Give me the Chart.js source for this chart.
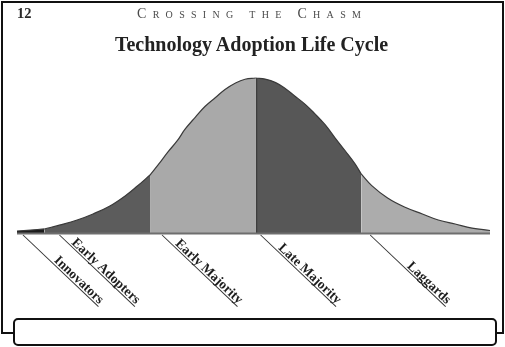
<!DOCTYPE html>
<html>
<head>
<meta charset="utf-8">
<script src="https://cdn.jsdelivr.net/npm/chart.js@4.4.1/dist/chart.umd.min.js"></script>
<style>
  html, body { margin:0; padding:0; background:#fff; }
  body { width:505px; height:347px; position:relative; overflow:hidden; font-family:"Liberation Serif", "DejaVu Serif", serif; }
  #c { position:absolute; left:0; top:0; width:505px; height:347px; }
  .frame { position:absolute; left:1px; top:1px; width:503px; height:333px; border:2px solid #111; box-sizing:border-box; }
  .box { position:absolute; left:13px; top:318px; width:484px; height:28px; border:2px solid #111; border-radius:5px; box-sizing:border-box; background:#fff; }
  .pnum { position:absolute; left:17px; top:6px; font-size:14.5px; line-height:14px; font-weight:bold; color:#2a2a2a; }
  .running { position:absolute; left:137px; top:7px; font-size:14px; line-height:14px; font-variant:small-caps; letter-spacing:6.3px; color:#4a4a4a; white-space:nowrap; }
  .title { position:absolute; left:0; width:503px; top:34px; text-align:center; font-size:20px; line-height:20px; font-weight:bold; color:#222; white-space:nowrap; }
</style>
</head>
<body>
<canvas id="c" width="505" height="347"></canvas>
<div class="frame"></div>
<div class="box"></div>
<div class="pnum">12</div>
<div class="running">Crossing the Chasm</div>
<div class="title">Technology Adoption Life Cycle</div>
<script>
// Categories (adopter groups) in order along the curve
const segmentNames = ['Innovators', 'Early Adopters', 'Early Majority', 'Late Majority', 'Laggards'];

// x: standard deviations from the mean; y: relative share of adopters (peak = 100)
const innovatorsX    = [-2.26, -2.13, -2.0];
const innovatorsY    = [1.3, 1.9, 2.6];

const earlyAdoptersX = [-2.0, -1.85, -1.69, -1.54, -1.38, -1.23, -1.12, -1.0];
const earlyAdoptersY = [2.6, 5.2, 8.4, 12.3, 17.4, 24.2, 30.3, 37.4];

const earlyMajorityX = [-1.0, -0.92, -0.83, -0.74, -0.67, -0.57, -0.48, -0.38, -0.29, -0.19, -0.10, 0];
const earlyMajorityY = [37.4, 44.2, 52.3, 59.7, 66.8, 74.8, 81.6, 87.4, 92.6, 96.8, 99.2, 100];

const lateMajorityX  = [0, 0.09, 0.19, 0.28, 0.37, 0.47, 0.56, 0.66, 0.75, 0.85, 0.94, 1.0];
const lateMajorityY  = [100, 99.3, 97.0, 93.2, 88.4, 83.0, 77.0, 69.7, 61.6, 52.9, 44.8, 38.1];

const laggardsX      = [1.0, 1.10, 1.25, 1.41, 1.58, 1.73, 1.89, 2.05, 2.22];
const laggardsY      = [38.1, 30.6, 22.6, 16.8, 12.3, 8.4, 5.8, 3.2, 1.6];

const segmentXs = [innovatorsX, earlyAdoptersX, earlyMajorityX, lateMajorityX, laggardsX];
const segmentYs = [innovatorsY, earlyAdoptersY, earlyMajorityY, lateMajorityY, laggardsY];

// styling (kept separate from data)
const fillColors = ['#1c1c1c', '#5c5c5c', '#a9a9a9', '#575757', '#acacac'];
const labelLeadOffsetPx = [6, 15, 12, 5, 9];

const toPoints = (xs, ys) => xs.map((x, i) => ({ x: x, y: ys[i] }));

const datasets = segmentNames.map((name, i) => ({
  label: name,
  data: toPoints(segmentXs[i], segmentYs[i]),
  fill: 'origin',
  backgroundColor: fillColors[i],
  borderColor: '#3a3a3a',
  borderWidth: 1.2,
  pointRadius: 0,
  tension: 0.4,
  clip: false
}));

const labelPlugin = {
  id: 'adopterLabels',
  afterDatasetsDraw(chart) {
    const ctx = chart.ctx;
    const xs = chart.scales.x, ys = chart.scales.y;
    const base = ys.getPixelForValue(0);
    const firstX = xs.getPixelForValue(innovatorsX[0]);
    const lastX = xs.getPixelForValue(laggardsX[laggardsX.length - 1]);
    ctx.save();
    // divider at the mean
    const mx = Math.round(xs.getPixelForValue(lateMajorityX[0])) + 0.5;
    ctx.strokeStyle = '#3e3e3e';
    ctx.lineWidth = 1.5;
    ctx.beginPath();
    ctx.moveTo(mx, ys.getPixelForValue(lateMajorityY[0]));
    ctx.lineTo(mx, base);
    ctx.stroke();
    // baseline
    ctx.strokeStyle = '#6e6e6e';
    ctx.lineWidth = 2;
    ctx.beginPath();
    ctx.moveTo(firstX, base + 0.5);
    ctx.lineTo(lastX, base + 0.5);
    ctx.stroke();

    const theta = 43.5 * Math.PI / 180;
    const L = 104;
    segmentNames.forEach((name, i) => {
      const x0 = xs.getPixelForValue(segmentXs[i][0]) + labelLeadOffsetPx[i];
      const y0 = base + 2;
      ctx.save();
      ctx.translate(x0, y0);
      ctx.rotate(theta);
      ctx.strokeStyle = '#333';
      ctx.lineWidth = 1;
      ctx.beginPath();
      ctx.moveTo(0, 0);
      ctx.lineTo(L, 0);
      ctx.stroke();
      ctx.fillStyle = '#1e1e1e';
      ctx.font = 'bold 13.5px "Liberation Serif", "DejaVu Serif", serif';
      ctx.textAlign = 'right';
      ctx.textBaseline = 'alphabetic';
      ctx.fillText(name, L - 1, -2);
      ctx.restore();
    });
    ctx.restore();
  }
};

new Chart(document.getElementById('c').getContext('2d'), {
  type: 'line',
  data: { datasets: datasets },
  options: {
    responsive: false,
    animation: false,
    events: [],
    layout: { padding: { left: 17, right: 15, top: 78, bottom: 114 } },
    scales: {
      x: { type: 'linear', display: false, min: -2.26, max: 2.22 },
      y: { display: false, min: 0, max: 100 }
    },
    plugins: { legend: { display: false }, tooltip: { enabled: false }, title: { display: false } }
  },
  plugins: [labelPlugin]
});
</script>
</body>
</html>
